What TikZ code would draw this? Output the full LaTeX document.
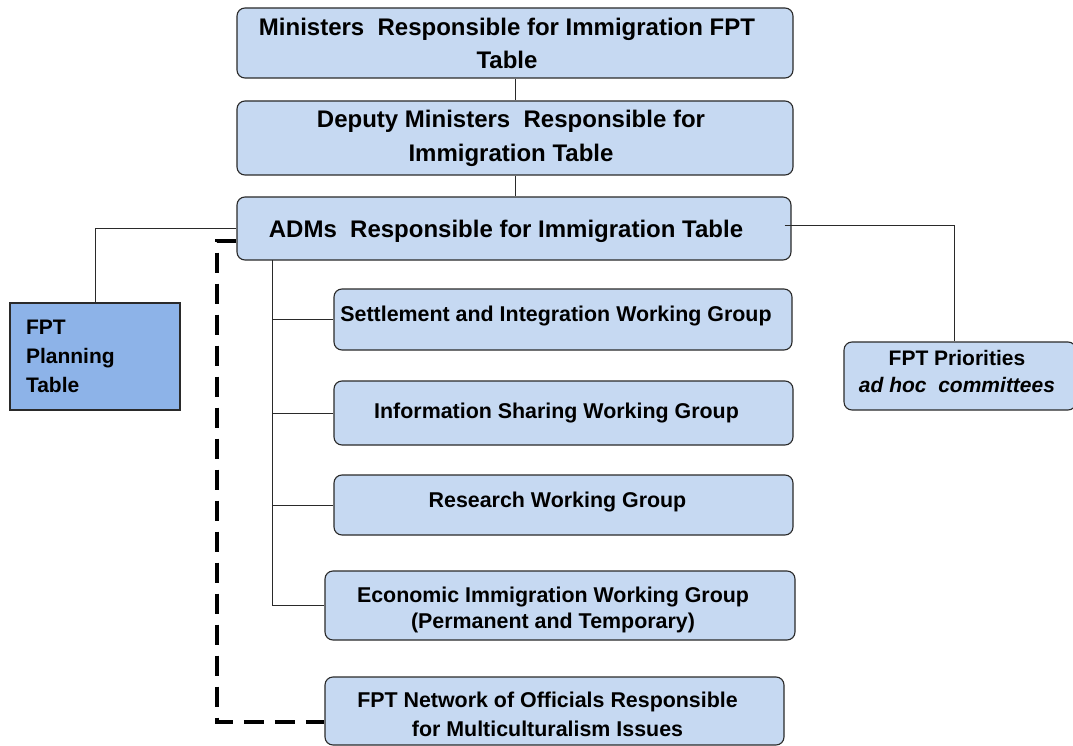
\documentclass[tikz,border=0pt]{standalone}
\usepackage{fontspec}
\setmainfont{Liberation Sans}
\definecolor{boxfill}{HTML}{C6D9F2}
\definecolor{planfill}{HTML}{8DB3E8}
\definecolor{edge}{HTML}{2A2A2A}
\begin{document}
\begin{tikzpicture}[x=1pt,y=-1pt,
  rbox/.style={draw=edge,line width=1.1pt,fill=boxfill,rounded corners=8pt,inner sep=0pt},
  bigtxt/.style={align=center,inner sep=0pt,font=\bfseries\fontsize{24}{33}\selectfont},
  wgtxt/.style={align=center,inner sep=0pt,font=\bfseries\fontsize{21.4}{26}\selectfont},
  conn/.style={draw=edge,line width=0.9pt},
  dashline/.style={draw=black,line width=4pt,dash pattern=on 20pt off 11pt}]
\useasboundingbox (0,0) rectangle (1073,746);

\node[rbox,minimum width=556pt,minimum height=70pt,
  label={[bigtxt,xshift=-8pt]center:Ministers\ \ Responsible for Immigration FPT\\Table}] (min) at (515,43) {};
\node[rbox,minimum width=556pt,minimum height=74pt,
  label={[bigtxt,xshift=-4pt,font=\bfseries\fontsize{24}{34}\selectfont]center:Deputy Ministers\ \ Responsible for\\Immigration Table}] (dep) at (515,138) {};
\node[rbox,minimum width=554pt,minimum height=63pt,
  label={[bigtxt,xshift=-8pt,yshift=-3pt]center:ADMs\ \ Responsible for Immigration Table}] (adm) at (514,228.5) {};

\node[rbox,minimum width=458pt,minimum height=61pt,
  label={[wgtxt,xshift=-7pt,yshift=3pt]center:Settlement and Integration Working Group}] (set) at (563,319.5) {};
\node[rbox,minimum width=459pt,minimum height=64pt,
  label={[wgtxt,xshift=-7pt]center:Information Sharing Working Group}] (inf) at (563.5,413) {};
\node[rbox,minimum width=459pt,minimum height=60pt,
  label={[wgtxt,xshift=-6pt,yshift=3pt]center:Research Working Group}] (res) at (563.5,505) {};
\node[rbox,minimum width=470pt,minimum height=69pt,
  label={[wgtxt,xshift=-7pt,yshift=-4pt]center:Economic Immigration Working Group\\(Permanent and Temporary)}] (eco) at (560,605.5) {};
\node[rbox,minimum width=459pt,minimum height=68pt,
  label={[wgtxt,xshift=-7pt,yshift=-3pt,font=\bfseries\fontsize{21.4}{29}\selectfont]center:FPT Network of Officials Responsible\\for Multiculturalism Issues}] (net) at (554.5,711) {};

\node[draw=edge,line width=1.1pt,fill=planfill,minimum width=170pt,minimum height=107pt,inner xsep=16pt,inner ysep=0pt,text width=138pt,align=left,font=\bfseries\fontsize{21}{29}\selectfont] (plan) at (95,356.5) {FPT\\Planning\\Table};

\node[rbox,minimum width=232pt,minimum height=68pt,
  label={[wgtxt,xshift=-3pt,yshift=5pt,font=\bfseries\fontsize{21}{27}\selectfont]center:FPT Priorities\\\textit{ad hoc\ \ committees}}] (pri) at (960,376) {};

\coordinate (trunk) at (272,260);

\draw[conn] (min.south) -- (dep.north);
\draw[conn] (dep.south) -- (dep.south |- adm.north);
\draw[conn] (adm.west) -| (plan.north);
\draw[conn] ([yshift=3pt,xshift=-7pt]adm.east) -| ([xshift=-6pt]pri.north);
\draw[conn] (trunk) |- (eco.west);
\draw[conn] (trunk |- set.west) -- (set.west);
\draw[conn] (trunk |- inf.west) -- (inf.west);
\draw[conn] (trunk |- res.west) -- (res.west);

\draw[dashline] ([yshift=-12pt]adm.west) -| ([xshift=-107pt,yshift=-11pt]net.west) -- ([yshift=-11pt]net.west);
\end{tikzpicture}
\end{document}
